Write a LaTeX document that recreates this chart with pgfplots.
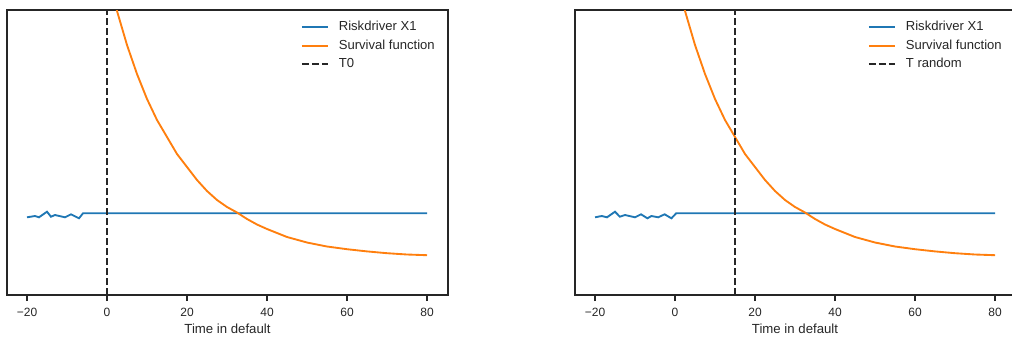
\documentclass[border=0pt]{standalone}
\usepackage{pgfplots}
\pgfplotsset{compat=1.18}
\usepackage{fontspec}
\setmainfont{Liberation Sans}
\definecolor{tabblue}{HTML}{1F77B4}
\definecolor{taborange}{HTML}{FF7F0E}
\definecolor{spine}{HTML}{262626}
\definecolor{vline}{HTML}{262626}

\pgfplotstableread{
x y
-20 77.7
-18 79
-17 77.7
-15 83.3
-14 78.3
-13 80
-10.5 77.7
-9 80.7
-7 76.7
-6 81.7
80 81.7
}\bluesA

\pgfplotstableread{
x y
-20 77.7
-18.3 79
-17 77.7
-15 83.3
-13.8 78.3
-12.5 80
-10 77.7
-8.5 80.7
-6.9 76.7
-5.9 79
-4.2 77.7
-2.6 80.7
-0.9 76.7
0.3 81.7
80 81.7
}\bluesB

\pgfplotstableread{
x y
0 322
2.5 284
5 250
7.5 221
10 196
12.5 175
15 158
17.5 141
20 128
22.5 115
25 104
27.5 95
30 88
32.5 82.5
35 76
37.5 70.5
40 66
45 58
50 52.5
55 48.5
60 45.8
65 43.6
70 41.8
75 40.5
80 39.8
}\survival

\pgfplotsset{
  myaxis/.style={
    scale only axis,
    width=330.75pt, height=213.75pt,
    xmin=-25, xmax=85.25, ymin=0, ymax=285,
    xtick={-20,0,20,40,60,80},
    xticklabels={−20,0,20,40,60,80},
    ytick=\empty,
    xtick pos=bottom,
    tick align=outside,
    major tick length=4.5pt,
    every tick/.style={draw=spine, line width=0.9pt},
    axis line style={draw=spine, line width=1pt},
    xticklabel style={font=\fontsize{9}{10}\selectfont, text=spine, yshift=-1.5pt},
    xlabel={Time in default},
    xlabel style={font=\fontsize{9.9}{11}\selectfont, text=spine, at={(axis description cs:0.5,0)}, anchor=base, yshift=-29pt},
    legend cell align=left,
    legend style={draw=none, fill=none, at={(0.9705,0.972)}, anchor=north east, yshift=-2.25pt,
      font=\fontsize{9.8}{11}\selectfont, text=spine, inner sep=0pt,
      row sep=4.9pt,
      nodes={inner sep=0pt, text height=7pt, text depth=2pt}},
    legend image code/.code={\draw[##1] (0pt,0pt) -- (19.5pt,0pt); \path (27pt,0pt);},
    clip=true,
  }
}

\begin{document}
\begin{tikzpicture}
\useasboundingbox (0pt,0pt) rectangle (759pt,255pt);
\begin{axis}[myaxis, at={(5.25pt,33.75pt)}, anchor=south west]
\addplot[tabblue, line width=1.4pt] table {\bluesA};
\addlegendentry{Riskdriver X1}
\addplot[taborange, line width=1.4pt] table {\survival};
\addlegendentry{Survival function}
\addplot[vline, line width=1.6pt, dash pattern=on 5.25pt off 2.25pt] coordinates {(0,0) (0,285)};
\addlegendentry{T0}
\end{axis}
\begin{axis}[myaxis, width=330pt, xmax=85, at={(431.25pt,33.75pt)}, anchor=south west]
\addplot[tabblue, line width=1.4pt] table {\bluesB};
\addlegendentry{Riskdriver X1}
\addplot[taborange, line width=1.4pt] table {\survival};
\addlegendentry{Survival function}
\addplot[vline, line width=1.6pt, dash pattern=on 5.25pt off 2.25pt] coordinates {(15,0) (15,285)};
\addlegendentry{T random}
\end{axis}
\end{tikzpicture}
\end{document}
